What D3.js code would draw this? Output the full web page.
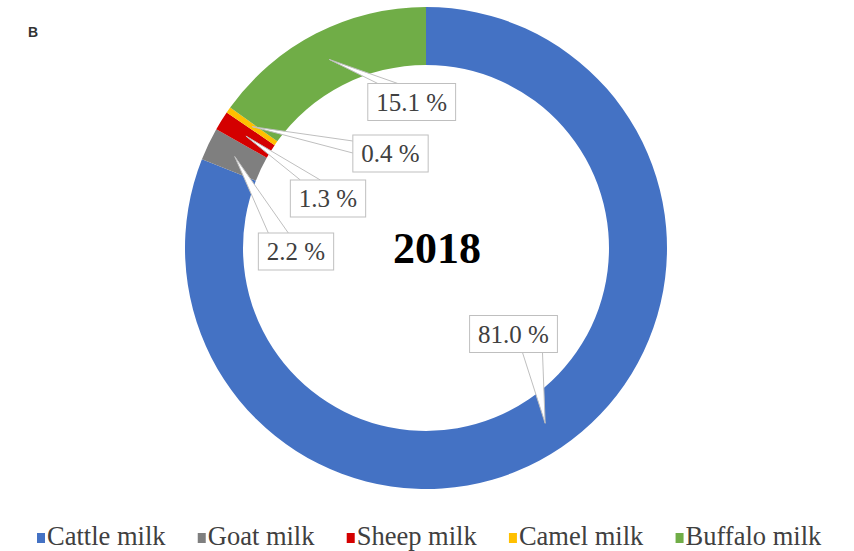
<!DOCTYPE html>
<html>
<head>
<meta charset="utf-8">
<script src="https://cdn.jsdelivr.net/npm/d3@7"></script>
<style>
  body { margin: 0; background: #fff; }
  text { font-family: "Liberation Serif", "Times New Roman", serif; }
</style>
</head>
<body>
<svg id="chart" width="854" height="551"></svg>
<script>
// milk production shares, 2018
let categories = ["Cattle milk", "Goat milk", "Sheep milk", "Camel milk", "Buffalo milk"]
let shares = [81.0, 2.2, 1.3, 0.4, 15.1]
let labels = ["81.0 %", "2.2 %", "1.3 %", "0.4 %", "15.1 %"]
let colors = ["#4472C4", "#7F7F7F", "#D40000", "#FFC000", "#70AD47"]

// where the callout boxes sit, relative to the ring centre
let boxOffsets = [[87.5, 86], [-130, 3.5], [-98, -49.5], [-35.5, -94.5], [-14.3, -146]]

let serif = "'Liberation Serif', 'Times New Roman', serif"
let svg = d3.select("#chart")
let cx = 426, cy = 248
let outerR = 241, innerR = 183

let data = categories.map((c, i) => ({ name: c, value: shares[i], label: labels[i], color: colors[i] }))

let pie = d3.pie().value(d => d.value).sort(null)
let arc = d3.arc().innerRadius(innerR).outerRadius(outerR)
let arcs = pie(data)

let g = svg.append("g").attr("transform", "translate(" + cx + "," + cy + ")")

g.selectAll("path.slice")
    .data(arcs)
    .enter().append("path")
    .attr("class", "slice")
    .attr("d", arc)
    .attr("fill", d => d.data.color)

// centre label
g.append("text")
    .attr("x", 11)
    .attr("y", 0)
    .attr("dy", "0.35em")
    .attr("text-anchor", "middle")
    .style("font-family", serif)
    .attr("font-size", 44)
    .attr("font-weight", "bold")
    .attr("fill", "#000")
    .text("2018")

// callouts
let fontSize = 25
let callouts = g.append("g")
arcs.forEach((d, i) => {
    let tip = arc.centroid(d)
    let bx = boxOffsets[i][0], by = boxOffsets[i][1]

    let t = callouts.append("text")
        .style("font-family", serif)
        .attr("font-size", fontSize)
        .attr("fill", "#404040")
        .attr("text-anchor", "middle")
        .attr("x", bx)
        .attr("y", by)
        .attr("dy", "0.35em")
        .text(d.data.label)
    let tw = t.node().getComputedTextLength()
    let w = tw + 17, h = 37
    let x0 = bx - w / 2, y0 = by - h / 2

    // wedge from the box edge facing the tip
    let nx = (tip[0] - bx) / (w / 2), ny = (tip[1] - by) / (h / 2)
    let base
    if (Math.abs(ny) >= Math.abs(nx)) {
        let ey = ny < 0 ? y0 : y0 + h
        let c = Math.max(x0 + 20, Math.min(x0 + w - 20, bx + 0.6 * (tip[0] - bx)))
        base = [[c - 10, ey], [c + 10, ey]]
    } else {
        let ex = nx < 0 ? x0 : x0 + w
        let c = Math.max(y0 + 12, Math.min(y0 + h - 12, by + 0.6 * (tip[1] - by)))
        base = [[ex, c - 6], [ex, c + 6]]
    }
    callouts.insert("path", "text")
        .attr("d", d3.line()([base[0], tip, base[1]]))
        .attr("fill", "#fff")
        .attr("stroke", "#BFBFBF")
        .attr("stroke-width", 1)
    callouts.insert("rect", "text")
        .attr("x", x0).attr("y", y0)
        .attr("width", w).attr("height", h)
        .attr("fill", "#fff")
        .attr("stroke", "#BFBFBF")
        .attr("stroke-width", 1)
})

// panel letter
svg.append("text")
    .attr("x", 28)
    .attr("y", 37)
    .style("font-family", "'Liberation Sans', Arial, sans-serif")
    .attr("font-size", 14)
    .attr("font-weight", "bold")
    .attr("fill", "#333")
    .text("B")

// legend
let legend = svg.append("g").attr("transform", "translate(0,545)")
let items = legend.selectAll("g.item")
    .data(data)
    .enter().append("g")
    .attr("class", "item")
items.append("rect")
    .attr("width", 8).attr("height", 10)
    .attr("y", -12)
    .attr("fill", d => d.color)
items.append("text")
    .attr("x", 10)
    .style("font-family", serif)
    .attr("font-size", 26.5)
    .attr("fill", "#404040")
    .text(d => d.name)

let widths = []
items.each(function () { widths.push(this.getBBox().width) })
let left = 37, right = 822
let gap = (right - left - d3.sum(widths)) / (widths.length - 1)
let xpos = left
items.attr("transform", (d, i) => {
    let x = xpos
    xpos += widths[i] + gap
    return "translate(" + x + ",0)"
})
</script>
</body>
</html>
